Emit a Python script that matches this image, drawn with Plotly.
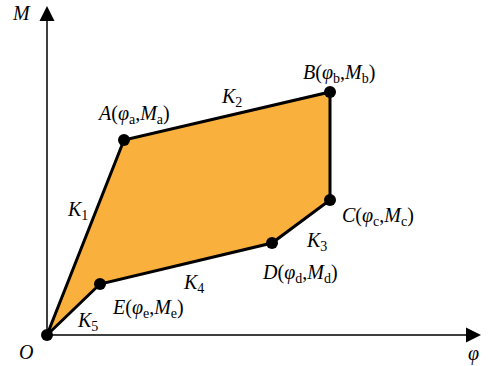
import plotly.graph_objects as go

# 控制点 (φ, M)，原点 O
point_names = ["O", "A", "B", "C", "D", "E"]
phi_vals = [0, 77, 283, 283, 225, 53]
m_vals = [0, 195, 243, 135, 92, 51]

# 点标签
point_labels = [
    "<i>A</i>(<i>φ</i><sub>a</sub>,<i>M</i><sub>a</sub>)",
    "<i>B</i>(<i>φ</i><sub>b</sub>,<i>M</i><sub>b</sub>)",
    "<i>C</i>(<i>φ</i><sub>c</sub>,<i>M</i><sub>c</sub>)",
    "<i>D</i>(<i>φ</i><sub>d</sub>,<i>M</i><sub>d</sub>)",
    "<i>E</i>(<i>φ</i><sub>e</sub>,<i>M</i><sub>e</sub>)",
]
label_pos = [(86, 221), (292, 262), (331, 119), (253, 62), (101, 27)]

# 刚度标签
k_labels = ["<i>K</i><sub>1</sub>", "<i>K</i><sub>2</sub>", "<i>K</i><sub>3</sub>",
            "<i>K</i><sub>4</sub>", "<i>K</i><sub>5</sub>"]
k_pos = [(30, 125), (184, 238), (269, 94), (146, 52), (40, 14)]

PHI_MAX = 434
M_MAX = 329

font_family = "Liberation Serif, Times New Roman, serif"
FS = 20

fig = go.Figure()

# 多边形区域
fig.add_trace(go.Scatter(
    x=phi_vals + [phi_vals[0]],
    y=m_vals + [m_vals[0]],
    mode="lines",
    fill="toself",
    fillcolor="#FAB03C",
    line=dict(color="black", width=3),
    hoverinfo="skip",
))

# 节点
fig.add_trace(go.Scatter(
    x=phi_vals,
    y=m_vals,
    mode="markers",
    marker=dict(size=12, color="black"),
    text=point_names,
    hoverinfo="text",
))

# 坐标轴箭头
fig.add_annotation(x=PHI_MAX, y=0, ax=-1, ay=0, xref="x", yref="y",
                   axref="x", ayref="y", showarrow=True, arrowhead=2,
                   arrowsize=2, arrowwidth=1.5, arrowcolor="black", text="")
fig.add_annotation(x=0, y=M_MAX, ax=0, ay=-1, xref="x", yref="y",
                   axref="x", ayref="y", showarrow=True, arrowhead=2,
                   arrowsize=2, arrowwidth=1.5, arrowcolor="black", text="")

# 轴标签
fig.add_annotation(x=-26, y=322, text="<i>M</i>", showarrow=False,
                   font=dict(size=FS, family=font_family, color="black"))
fig.add_annotation(x=426, y=-18, text="<i>φ</i>", showarrow=False,
                   font=dict(size=FS, family=font_family, color="black"))
fig.add_annotation(x=-21, y=-17, text="<i>O</i>", showarrow=False,
                   font=dict(size=FS, family=font_family, color="black"))

for txt, (px, py) in zip(point_labels, label_pos):
    fig.add_annotation(x=px, y=py, text=txt, showarrow=False,
                       font=dict(size=FS, family=font_family, color="black"))

for txt, (px, py) in zip(k_labels, k_pos):
    fig.add_annotation(x=px, y=py, text=txt, showarrow=False,
                       font=dict(size=FS, family=font_family, color="black"))

fig.update_layout(
    width=491, height=366,
    margin=dict(l=0, r=0, t=0, b=0),
    plot_bgcolor="white", paper_bgcolor="white",
    showlegend=False,
)
fig.update_xaxes(range=[-47, 444], visible=False, fixedrange=True)
fig.update_yaxes(range=[-31, 335], visible=False, fixedrange=True)

fig.write_html("out.html", config={"displayModeBar": False},
               post_script="document.body.style.margin='0';")
